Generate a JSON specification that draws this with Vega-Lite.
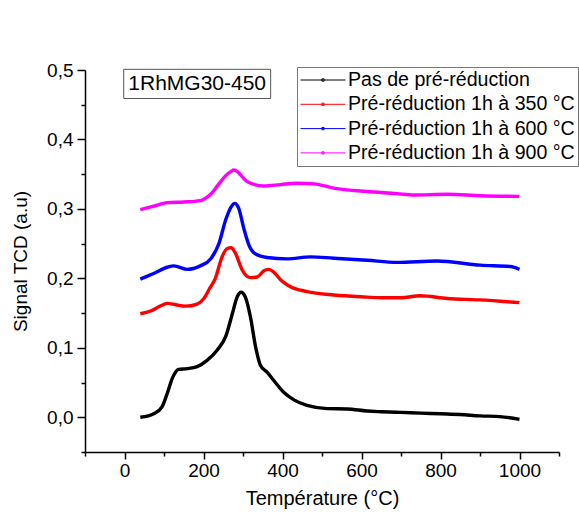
{
  "$schema": "https://vega.github.io/schema/vega-lite/v6.json",
  "autosize": {"type": "none"},
  "padding": {"left": 85, "top": 70, "right": 20, "bottom": 65},
  "width": 474,
  "height": 382,
  "config": {
    "view": {"stroke": null},
    "font": "Liberation Sans",
    "axis": {"domainColor": "#000", "domainWidth": 1.5, "tickColor": "#000", "tickWidth": 1.5, "labelColor": "#000", "titleColor": "#000", "labelFont": "Liberation Sans", "titleFont": "Liberation Sans", "titleFontWeight": "normal", "grid": false}
  },
  "resolve": {"axis": {"x": "independent", "y": "independent"}},
  "datasets": {
    "tcd": [
      {"s": "Pas de pré-réduction", "t": 40, "v": 0.000},
      {"s": "Pas de pré-réduction", "t": 60, "v": 0.002},
      {"s": "Pas de pré-réduction", "t": 74, "v": 0.005},
      {"s": "Pas de pré-réduction", "t": 95, "v": 0.015},
      {"s": "Pas de pré-réduction", "t": 108, "v": 0.034},
      {"s": "Pas de pré-réduction", "t": 121, "v": 0.056},
      {"s": "Pas de pré-réduction", "t": 137, "v": 0.069},
      {"s": "Pas de pré-réduction", "t": 159, "v": 0.070},
      {"s": "Pas de pré-réduction", "t": 184, "v": 0.073},
      {"s": "Pas de pré-réduction", "t": 209, "v": 0.082},
      {"s": "Pas de pré-réduction", "t": 235, "v": 0.097},
      {"s": "Pas de pré-réduction", "t": 256, "v": 0.116},
      {"s": "Pas de pré-réduction", "t": 273, "v": 0.149},
      {"s": "Pas de pré-réduction", "t": 285, "v": 0.173},
      {"s": "Pas de pré-réduction", "t": 295, "v": 0.180},
      {"s": "Pas de pré-réduction", "t": 306, "v": 0.173},
      {"s": "Pas de pré-réduction", "t": 319, "v": 0.144},
      {"s": "Pas de pré-réduction", "t": 332, "v": 0.101},
      {"s": "Pas de pré-réduction", "t": 344, "v": 0.075},
      {"s": "Pas de pré-réduction", "t": 361, "v": 0.065},
      {"s": "Pas de pré-réduction", "t": 378, "v": 0.053},
      {"s": "Pas de pré-réduction", "t": 403, "v": 0.036},
      {"s": "Pas de pré-réduction", "t": 429, "v": 0.025},
      {"s": "Pas de pré-réduction", "t": 462, "v": 0.017},
      {"s": "Pas de pré-réduction", "t": 513, "v": 0.0125},
      {"s": "Pas de pré-réduction", "t": 564, "v": 0.012},
      {"s": "Pas de pré-réduction", "t": 614, "v": 0.009},
      {"s": "Pas de pré-réduction", "t": 650, "v": 0.008},
      {"s": "Pas de pré-réduction", "t": 700, "v": 0.007},
      {"s": "Pas de pré-réduction", "t": 750, "v": 0.006},
      {"s": "Pas de pré-réduction", "t": 800, "v": 0.005},
      {"s": "Pas de pré-réduction", "t": 850, "v": 0.004},
      {"s": "Pas de pré-réduction", "t": 900, "v": 0.002},
      {"s": "Pas de pré-réduction", "t": 950, "v": 0.001},
      {"s": "Pas de pré-réduction", "t": 1000, "v": -0.003},

      {"s": "Pré-réduction 1h à 350 °C", "t": 40, "v": 0.149},
      {"s": "Pré-réduction 1h à 350 °C", "t": 66, "v": 0.153},
      {"s": "Pré-réduction 1h à 350 °C", "t": 90, "v": 0.160},
      {"s": "Pré-réduction 1h à 350 °C", "t": 108, "v": 0.164},
      {"s": "Pré-réduction 1h à 350 °C", "t": 130, "v": 0.162},
      {"s": "Pré-réduction 1h à 350 °C", "t": 154, "v": 0.160},
      {"s": "Pré-réduction 1h à 350 °C", "t": 184, "v": 0.163},
      {"s": "Pré-réduction 1h à 350 °C", "t": 201, "v": 0.171},
      {"s": "Pré-réduction 1h à 350 °C", "t": 215, "v": 0.185},
      {"s": "Pré-réduction 1h à 350 °C", "t": 230, "v": 0.200},
      {"s": "Pré-réduction 1h à 350 °C", "t": 247, "v": 0.231},
      {"s": "Pré-réduction 1h à 350 °C", "t": 260, "v": 0.243},
      {"s": "Pré-réduction 1h à 350 °C", "t": 270, "v": 0.244},
      {"s": "Pré-réduction 1h à 350 °C", "t": 281, "v": 0.236},
      {"s": "Pré-réduction 1h à 350 °C", "t": 298, "v": 0.212},
      {"s": "Pré-réduction 1h à 350 °C", "t": 310, "v": 0.203},
      {"s": "Pré-réduction 1h à 350 °C", "t": 319, "v": 0.201},
      {"s": "Pré-réduction 1h à 350 °C", "t": 336, "v": 0.202},
      {"s": "Pré-réduction 1h à 350 °C", "t": 353, "v": 0.211},
      {"s": "Pré-réduction 1h à 350 °C", "t": 365, "v": 0.213},
      {"s": "Pré-réduction 1h à 350 °C", "t": 378, "v": 0.209},
      {"s": "Pré-réduction 1h à 350 °C", "t": 395, "v": 0.198},
      {"s": "Pré-réduction 1h à 350 °C", "t": 420, "v": 0.188},
      {"s": "Pré-réduction 1h à 350 °C", "t": 462, "v": 0.181},
      {"s": "Pré-réduction 1h à 350 °C", "t": 530, "v": 0.176},
      {"s": "Pré-réduction 1h à 350 °C", "t": 614, "v": 0.173},
      {"s": "Pré-réduction 1h à 350 °C", "t": 650, "v": 0.172},
      {"s": "Pré-réduction 1h à 350 °C", "t": 700, "v": 0.172},
      {"s": "Pré-réduction 1h à 350 °C", "t": 749, "v": 0.175},
      {"s": "Pré-réduction 1h à 350 °C", "t": 817, "v": 0.171},
      {"s": "Pré-réduction 1h à 350 °C", "t": 900, "v": 0.169},
      {"s": "Pré-réduction 1h à 350 °C", "t": 1000, "v": 0.165},

      {"s": "Pré-réduction 1h à 600 °C", "t": 40, "v": 0.199},
      {"s": "Pré-réduction 1h à 600 °C", "t": 74, "v": 0.207},
      {"s": "Pré-réduction 1h à 600 °C", "t": 108, "v": 0.216},
      {"s": "Pré-réduction 1h à 600 °C", "t": 125, "v": 0.218},
      {"s": "Pré-réduction 1h à 600 °C", "t": 159, "v": 0.213},
      {"s": "Pré-réduction 1h à 600 °C", "t": 192, "v": 0.218},
      {"s": "Pré-réduction 1h à 600 °C", "t": 218, "v": 0.228},
      {"s": "Pré-réduction 1h à 600 °C", "t": 239, "v": 0.250},
      {"s": "Pré-réduction 1h à 600 °C", "t": 256, "v": 0.284},
      {"s": "Pré-réduction 1h à 600 °C", "t": 270, "v": 0.303},
      {"s": "Pré-réduction 1h à 600 °C", "t": 279, "v": 0.308},
      {"s": "Pré-réduction 1h à 600 °C", "t": 289, "v": 0.301},
      {"s": "Pré-réduction 1h à 600 °C", "t": 302, "v": 0.272},
      {"s": "Pré-réduction 1h à 600 °C", "t": 315, "v": 0.248},
      {"s": "Pré-réduction 1h à 600 °C", "t": 332, "v": 0.235},
      {"s": "Pré-réduction 1h à 600 °C", "t": 361, "v": 0.230},
      {"s": "Pré-réduction 1h à 600 °C", "t": 412, "v": 0.228},
      {"s": "Pré-réduction 1h à 600 °C", "t": 471, "v": 0.231},
      {"s": "Pré-réduction 1h à 600 °C", "t": 530, "v": 0.229},
      {"s": "Pré-réduction 1h à 600 °C", "t": 614, "v": 0.226},
      {"s": "Pré-réduction 1h à 600 °C", "t": 690, "v": 0.223},
      {"s": "Pré-réduction 1h à 600 °C", "t": 791, "v": 0.225},
      {"s": "Pré-réduction 1h à 600 °C", "t": 901, "v": 0.219},
      {"s": "Pré-réduction 1h à 600 °C", "t": 977, "v": 0.217},
      {"s": "Pré-réduction 1h à 600 °C", "t": 1000, "v": 0.213},

      {"s": "Pré-réduction 1h à 900 °C", "t": 40, "v": 0.299},
      {"s": "Pré-réduction 1h à 900 °C", "t": 74, "v": 0.304},
      {"s": "Pré-réduction 1h à 900 °C", "t": 108, "v": 0.309},
      {"s": "Pré-réduction 1h à 900 °C", "t": 150, "v": 0.310},
      {"s": "Pré-réduction 1h à 900 °C", "t": 192, "v": 0.312},
      {"s": "Pré-réduction 1h à 900 °C", "t": 218, "v": 0.321},
      {"s": "Pré-réduction 1h à 900 °C", "t": 243, "v": 0.339},
      {"s": "Pré-réduction 1h à 900 °C", "t": 260, "v": 0.350},
      {"s": "Pré-réduction 1h à 900 °C", "t": 270, "v": 0.354},
      {"s": "Pré-réduction 1h à 900 °C", "t": 277, "v": 0.356},
      {"s": "Pré-réduction 1h à 900 °C", "t": 285, "v": 0.354},
      {"s": "Pré-réduction 1h à 900 °C", "t": 294, "v": 0.349},
      {"s": "Pré-réduction 1h à 900 °C", "t": 305, "v": 0.342},
      {"s": "Pré-réduction 1h à 900 °C", "t": 315, "v": 0.338},
      {"s": "Pré-réduction 1h à 900 °C", "t": 353, "v": 0.333},
      {"s": "Pré-réduction 1h à 900 °C", "t": 395, "v": 0.335},
      {"s": "Pré-réduction 1h à 900 °C", "t": 437, "v": 0.337},
      {"s": "Pré-réduction 1h à 900 °C", "t": 480, "v": 0.336},
      {"s": "Pré-réduction 1h à 900 °C", "t": 530, "v": 0.330},
      {"s": "Pré-réduction 1h à 900 °C", "t": 614, "v": 0.325},
      {"s": "Pré-réduction 1h à 900 °C", "t": 690, "v": 0.322},
      {"s": "Pré-réduction 1h à 900 °C", "t": 732, "v": 0.320},
      {"s": "Pré-réduction 1h à 900 °C", "t": 817, "v": 0.321},
      {"s": "Pré-réduction 1h à 900 °C", "t": 901, "v": 0.319},
      {"s": "Pré-réduction 1h à 900 °C", "t": 1000, "v": 0.318}
    ]
  },
  "layer": [
    {
      "data": {"name": "tcd"},
      "mark": {"type": "line", "interpolate": "monotone", "strokeWidth": 3.4},
      "encoding": {
        "x": {
          "field": "t", "type": "quantitative",
          "scale": {"domain": [-100, 1100], "nice": false, "zero": false},
          "axis": {
            "orient": "bottom",
            "title": "Température (°C)",
            "values": [0, 200, 400, 600, 800, 1000],
            "format": "d",
            "tickSize": 7,
            "labelFontSize": 19,
            "labelPadding": 2,
            "titleFontSize": 20,
            "titlePadding": 8,
            "labelFlush": false,
            "labelOverlap": false
          }
        },
        "y": {
          "field": "v", "type": "quantitative",
          "scale": {"domain": [-0.05, 0.5], "nice": false, "zero": false},
          "axis": {
            "orient": "left",
            "title": "Signal TCD (a.u)",
            "values": [0, 0.1, 0.2, 0.3, 0.4, 0.5],
            "labelExpr": "replace(format(datum.value, '.1f'), '.', ',')",
            "tickSize": 8,
            "labelFontSize": 19,
            "labelPadding": 4,
            "titleFontSize": 19,
            "titlePadding": 16,
            "labelFlush": false,
            "labelOverlap": false
          }
        },
        "color": {
          "field": "s", "type": "nominal",
          "scale": {
            "domain": ["Pas de pré-réduction", "Pré-réduction 1h à 350 °C", "Pré-réduction 1h à 600 °C", "Pré-réduction 1h à 900 °C"],
            "range": ["#000000", "#FF0000", "#0000FF", "#FF00FF"]
          },
          "legend": {
            "title": null,
            "orient": "none",
            "legendX": 212,
            "legendY": -3,
            "symbolType": "M-1,0H1M-0.05,-0.05H0.05V0.05H-0.05Z",
            "symbolSize": 2025,
            "symbolStrokeWidth": 1,
            "clipHeight": 20,
            "labelFontSize": 19.6,
            "labelColor": "#000",
            "labelLimit": 400,
            "labelOffset": 2,
            "padding": 3,
            "strokeColor": "#777",
            "fillColor": "#fff",
            "rowPadding": 4.3
          }
        }
      }
    },
    {
      "data": {"values": [{}]},
      "mark": {"type": "rect", "fill": "#fff", "stroke": "#555", "strokeWidth": 1},
      "encoding": {
        "x": {
          "datum": -2, "type": "quantitative",
          "axis": {"orient": "bottom", "values": [-100, 100, 300, 500, 700, 900, 1100], "labels": false, "domain": false, "tickSize": 4, "title": null}
        },
        "x2": {"datum": 370},
        "y": {
          "datum": 0.459, "type": "quantitative",
          "axis": {"orient": "left", "values": [-0.05, 0.05, 0.15, 0.25, 0.35, 0.45], "labels": false, "domain": false, "tickSize": 4, "title": null}
        },
        "y2": {"datum": 0.501}
      }
    },
    {
      "data": {"values": [{"label": "1RhMG30-450"}]},
      "mark": {"type": "text", "fontSize": 21, "font": "Liberation Sans", "color": "#000", "align": "center", "baseline": "middle"},
      "encoding": {
        "x": {"datum": 184, "type": "quantitative", "axis": null},
        "y": {"datum": 0.48, "type": "quantitative", "axis": null},
        "text": {"field": "label"}
      }
    }
  ]
}
